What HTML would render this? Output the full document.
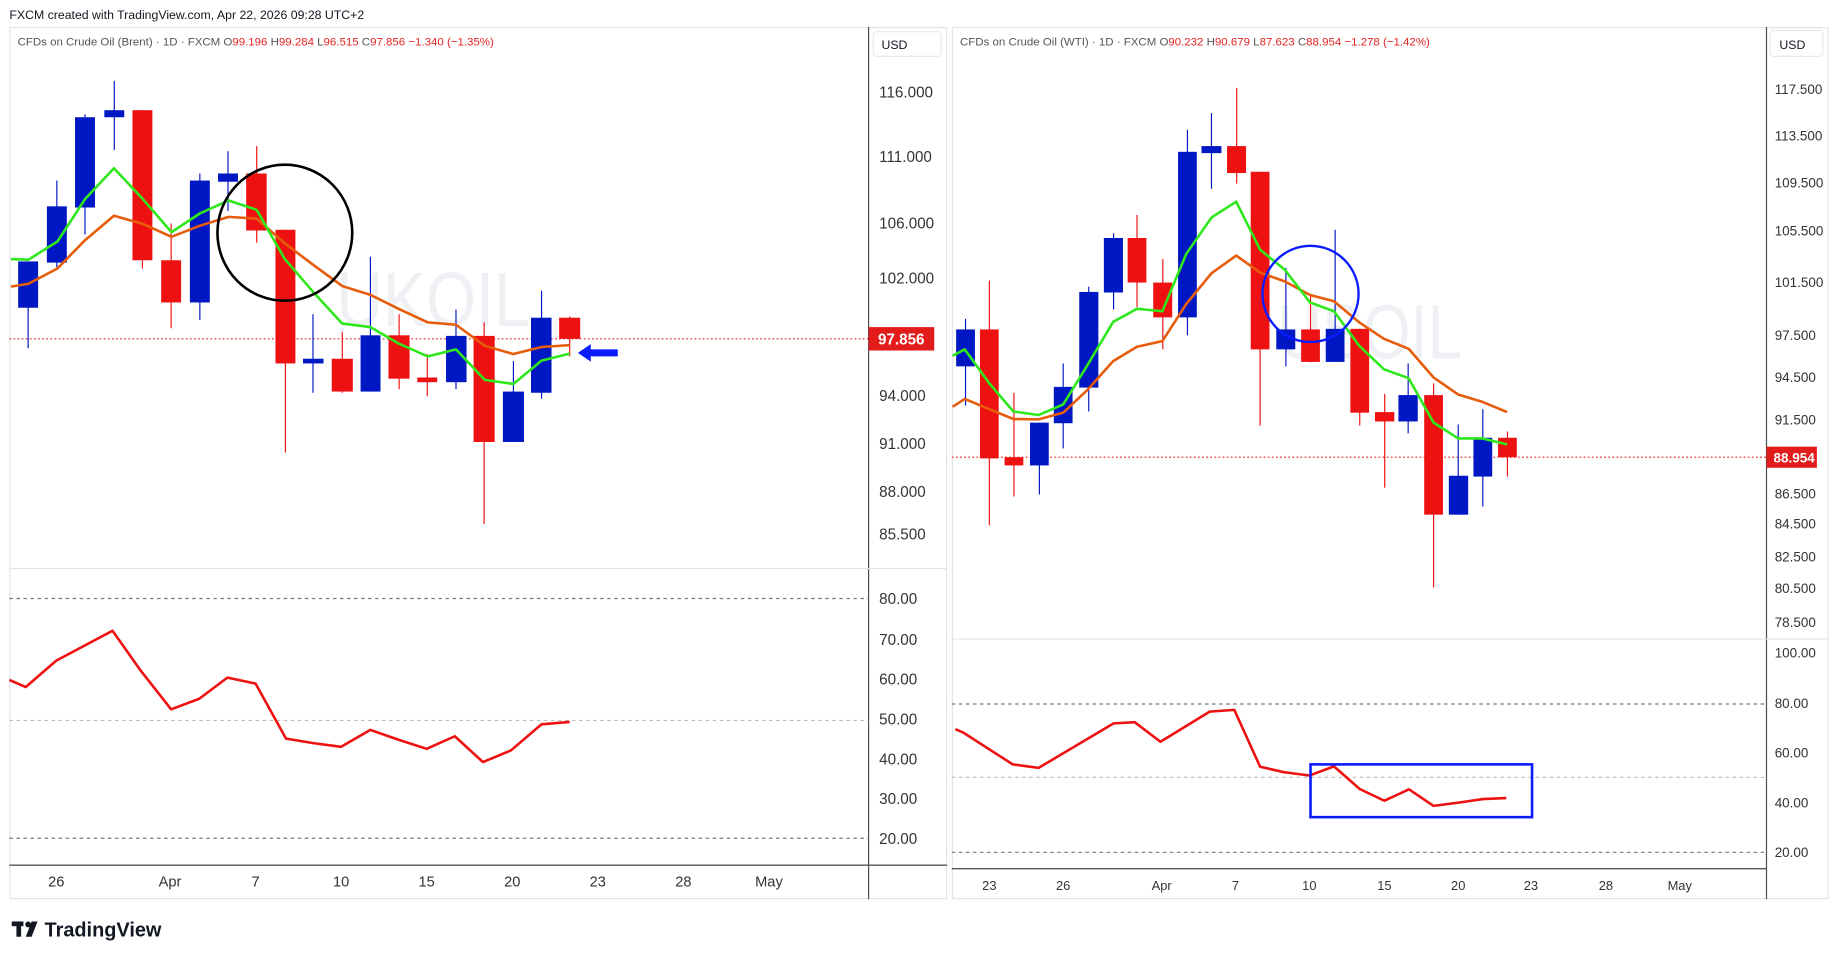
<!DOCTYPE html>
<html><head><meta charset="utf-8"><style>
html,body{margin:0;padding:0;background:#fff;}
svg{display:block;}
text{font-family:"Liberation Sans",sans-serif;}
</style></head><body>
<svg width="1838" height="959" viewBox="0 0 1568 818" preserveAspectRatio="none" xmlns="http://www.w3.org/2000/svg">
<rect x="0" y="0" width="1568" height="818" fill="#fff"/>
<text x="8" y="16" font-size="10.5" fill="#131722">FXCM created with TradingView.com, Apr 22, 2026 09:28 UTC+2</text>

<!-- LEFT PANEL -->
<rect x="8.5" y="23.5" width="799" height="743" fill="none" stroke="#e0e3eb"/>
<line x1="741" y1="23" x2="741" y2="767" stroke="#4a4a4a" stroke-width="1"/>
<line x1="8" y1="485" x2="808" y2="485" stroke="#e0e3eb" stroke-width="1"/>
<line x1="8" y1="738" x2="808" y2="738" stroke="#555" stroke-width="1.2"/>
<rect x="745" y="27" width="58" height="21" rx="3" fill="#fff" stroke="#e6e8ee"/>
<text x="752" y="42" font-size="10.5" fill="#131722">USD</text>
<text x="15" y="39" font-size="9.8" fill="#555"><tspan>CFDs on Crude Oil (Brent) · 1D · FXCM  O</tspan><tspan fill="#e52222">99.196 </tspan><tspan>H</tspan><tspan fill="#e52222">99.284 </tspan><tspan>L</tspan><tspan fill="#e52222">96.515 </tspan><tspan>C</tspan><tspan fill="#e52222">97.856  −1.340 (−1.35%)</tspan></text>
<text x="287" y="278" font-size="66" fill="#eff0f3" textLength="165" lengthAdjust="spacingAndGlyphs">UKOIL</text>

<g font-size="13" fill="#333">
<text x="750" y="83">116.000</text>
<text x="750" y="138">111.000</text>
<text x="750" y="195">106.000</text>
<text x="750" y="242">102.000</text>
<text x="750" y="342">94.000</text>
<text x="750" y="383">91.000</text>
<text x="750" y="424">88.000</text>
<text x="750" y="460">85.500</text>
</g>
<line x1="8" y1="289" x2="741" y2="289" stroke="#e52222" stroke-width="1" stroke-dasharray="1.5,2"/>
<rect x="741" y="279" width="56" height="20" fill="#e21b1b"/>
<text x="749" y="294" font-size="13" font-weight="bold" fill="#fff">97.856</text>

<g stroke-width="1">
<line x1="24" y1="223" x2="24" y2="297" stroke="#0017c4"/><rect x="15.5" y="223" width="17" height="39.5" fill="#0017c4"/>
<line x1="48.5" y1="154" x2="48.5" y2="228" stroke="#0017c4"/><rect x="40" y="176" width="17" height="48" fill="#0017c4"/>
<line x1="72.5" y1="97.5" x2="72.5" y2="200" stroke="#0017c4"/><rect x="64" y="100" width="17" height="77" fill="#0017c4"/>
<line x1="97.5" y1="69" x2="97.5" y2="128" stroke="#0017c4"/><rect x="89" y="94" width="17" height="6" fill="#0017c4"/>
<line x1="121.5" y1="94" x2="121.5" y2="229" stroke="#ee1111"/><rect x="113" y="94" width="17" height="128" fill="#ee1111"/>
<line x1="146" y1="190.6" x2="146" y2="280" stroke="#ee1111"/><rect x="137.5" y="222" width="17" height="36" fill="#ee1111"/>
<line x1="170.5" y1="148" x2="170.5" y2="273" stroke="#0017c4"/><rect x="162" y="154" width="17" height="104" fill="#0017c4"/>
<line x1="194.5" y1="129" x2="194.5" y2="180" stroke="#0017c4"/><rect x="186" y="148" width="17" height="7" fill="#0017c4"/>
<line x1="219" y1="124.6" x2="219" y2="207" stroke="#ee1111"/><rect x="210" y="148" width="17.5" height="48.6" fill="#ee1111"/>
<line x1="243.5" y1="196" x2="243.5" y2="386" stroke="#ee1111"/><rect x="235" y="196" width="17" height="114" fill="#ee1111"/>
<line x1="267" y1="268" x2="267" y2="335" stroke="#0017c4"/><rect x="258.5" y="306" width="17.5" height="4" fill="#0017c4"/>
<line x1="292" y1="283" x2="292" y2="335" stroke="#ee1111"/><rect x="283" y="306" width="18" height="28" fill="#ee1111"/>
<line x1="316" y1="219" x2="316" y2="334" stroke="#0017c4"/><rect x="307.6" y="286" width="17" height="48" fill="#0017c4"/>
<line x1="340.5" y1="268" x2="340.5" y2="332" stroke="#ee1111"/><rect x="331.4" y="286" width="18" height="37" fill="#ee1111"/>
<line x1="364.5" y1="302" x2="364.5" y2="338" stroke="#ee1111"/><rect x="356" y="322" width="17" height="4" fill="#ee1111"/>
<line x1="389" y1="264" x2="389" y2="332" stroke="#0017c4"/><rect x="380.5" y="286.5" width="17.5" height="39.5" fill="#0017c4"/>
<line x1="413" y1="275" x2="413" y2="447" stroke="#ee1111"/><rect x="404" y="286.5" width="18" height="90.5" fill="#ee1111"/>
<line x1="438" y1="308" x2="438" y2="377" stroke="#0017c4"/><rect x="429" y="334" width="18" height="43" fill="#0017c4"/>
<line x1="462" y1="248" x2="462" y2="340" stroke="#0017c4"/><rect x="453" y="271" width="17.5" height="64" fill="#0017c4"/>
<line x1="486" y1="270" x2="486" y2="304" stroke="#ee1111"/><rect x="477" y="271" width="18" height="18" fill="#ee1111"/>
</g>
<polyline fill="none" stroke="#e65c0a" stroke-width="2.2" stroke-linejoin="round" points="9.3,244.5 24.3,242 49,229 72.4,205 97.2,184 122,191 146.3,202 170.6,192.5 195,185 219,186.5 243,207.6 268,226.5 292,244 316,251.5 340,263.4 365,275 389,277 413.6,295 438,302 462,296 486,294.4"/>
<polyline fill="none" stroke="#2ee81c" stroke-width="2.2" stroke-linejoin="round" points="9.3,221 24.3,221.5 49,206 72.4,170 97.2,143.5 122,170 146.3,198 170.6,182 195,171 219,179 243,221 268,250 292,276 316,279 340,293 365,304 389,298 413.6,324 438,327.5 462,307.6 486,301.6"/>
<ellipse cx="243" cy="198.5" rx="57.5" ry="58" fill="none" stroke="#000" stroke-width="2.2"/>
<polygon fill="#0a1cff" points="493,301 504,293.5 504,298 527,298 527,304 504,304 504,308.5"/>

<!-- left RSI -->
<line x1="8" y1="510.5" x2="741" y2="510.5" stroke="#777" stroke-dasharray="3,3"/>
<line x1="8" y1="614.5" x2="741" y2="614.5" stroke="#bbb" stroke-dasharray="3,3"/>
<line x1="8" y1="715" x2="741" y2="715" stroke="#777" stroke-dasharray="3,3"/>
<g font-size="13" fill="#333">
<text x="750" y="515">80.00</text><text x="750" y="550">70.00</text><text x="750" y="584">60.00</text>
<text x="750" y="618">50.00</text><text x="750" y="652">40.00</text><text x="750" y="686">30.00</text><text x="750" y="720">20.00</text>
</g>
<polyline fill="none" stroke="#ee1111" stroke-width="2.2" stroke-linejoin="round" points="8,580 22,586 48,563.5 96,538 120,572 146,605 170,596 194,578 218,583 244,630 268,634 291,637 316,622.6 340,631 364,638.7 388,628 412,650 436,640 462,617.8 486,615.8"/>
<g font-size="12.5" fill="#333" text-anchor="middle">
<text x="48" y="756">26</text><text x="145" y="756">Apr</text><text x="218" y="756">7</text><text x="291" y="756">10</text><text x="364" y="756">15</text><text x="437" y="756">20</text><text x="510" y="756">23</text><text x="583" y="756">28</text><text x="656" y="756">May</text>
</g>

<!-- RIGHT PANEL -->
<rect x="812.5" y="23.5" width="747" height="743" fill="none" stroke="#e0e3eb"/>
<line x1="1507" y1="23" x2="1507" y2="767" stroke="#4a4a4a" stroke-width="1"/>
<line x1="812" y1="545" x2="1560" y2="545" stroke="#e0e3eb" stroke-width="1"/>
<line x1="812" y1="741" x2="1507" y2="741" stroke="#555" stroke-width="1.2"/>
<rect x="1510" y="26" width="45" height="22" rx="3" fill="#fff" stroke="#e6e8ee"/>
<text x="1518" y="42" font-size="10.5" fill="#131722">USD</text>
<text x="819" y="39" font-size="9.8" fill="#555"><tspan>CFDs on Crude Oil (WTI) · 1D · FXCM  O</tspan><tspan fill="#e52222">90.232 </tspan><tspan>H</tspan><tspan fill="#e52222">90.679 </tspan><tspan>L</tspan><tspan fill="#e52222">87.623 </tspan><tspan>C</tspan><tspan fill="#e52222">88.954  −1.278 (−1.42%)</tspan></text>
<text x="1090" y="306" font-size="66" fill="#eff0f3" textLength="157" lengthAdjust="spacingAndGlyphs">USOIL</text>

<g font-size="11.5" fill="#333">
<text x="1514" y="80">117.500</text><text x="1514" y="120">113.500</text><text x="1514" y="160">109.500</text><text x="1514" y="201">105.500</text>
<text x="1514" y="245">101.500</text><text x="1514" y="290">97.500</text><text x="1514" y="326">94.500</text><text x="1514" y="362">91.500</text>
<text x="1514" y="425">86.500</text><text x="1514" y="451">84.500</text><text x="1514" y="479">82.500</text><text x="1514" y="506">80.500</text><text x="1514" y="535">78.500</text>
</g>
<line x1="812" y1="390" x2="1507" y2="390" stroke="#e52222" stroke-width="1" stroke-dasharray="1.5,2"/>
<rect x="1507" y="381" width="43" height="18" fill="#e21b1b"/>
<text x="1513" y="394.5" font-size="11.5" font-weight="bold" fill="#fff">88.954</text>

<g stroke-width="1">
<line x1="823.7" y1="272" x2="823.7" y2="346" stroke="#0017c4"/><rect x="815.7" y="281" width="16" height="31.5" fill="#0017c4"/>
<line x1="844" y1="239.4" x2="844" y2="448" stroke="#ee1111"/><rect x="836" y="281" width="16" height="110" fill="#ee1111"/>
<line x1="865" y1="335" x2="865" y2="423.5" stroke="#ee1111"/><rect x="857" y="390" width="16" height="7" fill="#ee1111"/>
<line x1="886.7" y1="360.5" x2="886.7" y2="421.8" stroke="#0017c4"/><rect x="878.7" y="360.5" width="16" height="36.5" fill="#0017c4"/>
<line x1="907" y1="310" x2="907" y2="382.5" stroke="#0017c4"/><rect x="899" y="330" width="16" height="31" fill="#0017c4"/>
<line x1="928.8" y1="244.6" x2="928.8" y2="351" stroke="#0017c4"/><rect x="920.7" y="249" width="16.3" height="81.6" fill="#0017c4"/>
<line x1="950" y1="199" x2="950" y2="264" stroke="#0017c4"/><rect x="941.7" y="203" width="16.3" height="46.5" fill="#0017c4"/>
<line x1="970" y1="183.4" x2="970" y2="262" stroke="#ee1111"/><rect x="962" y="203" width="16" height="38" fill="#ee1111"/>
<line x1="992" y1="221" x2="992" y2="298" stroke="#ee1111"/><rect x="983.8" y="241" width="16.2" height="29.7" fill="#ee1111"/>
<line x1="1013" y1="110.7" x2="1013" y2="286" stroke="#0017c4"/><rect x="1005" y="129.5" width="16" height="141.2" fill="#0017c4"/>
<line x1="1033.5" y1="96.4" x2="1033.5" y2="161" stroke="#0017c4"/><rect x="1025" y="124.6" width="17" height="6" fill="#0017c4"/>
<line x1="1055" y1="75" x2="1055" y2="156.6" stroke="#ee1111"/><rect x="1046.8" y="124.6" width="16.2" height="23" fill="#ee1111"/>
<line x1="1075" y1="146.5" x2="1075" y2="363" stroke="#ee1111"/><rect x="1067" y="146.5" width="16" height="151.5" fill="#ee1111"/>
<line x1="1097" y1="228.6" x2="1097" y2="312.5" stroke="#0017c4"/><rect x="1088.8" y="281" width="16.2" height="17" fill="#0017c4"/>
<line x1="1118" y1="250.6" x2="1118" y2="309" stroke="#ee1111"/><rect x="1110" y="281" width="16" height="27.7" fill="#ee1111"/>
<line x1="1139" y1="196" x2="1139" y2="308.7" stroke="#0017c4"/><rect x="1131" y="280.5" width="16" height="28.2" fill="#0017c4"/>
<line x1="1160" y1="280.5" x2="1160" y2="363" stroke="#ee1111"/><rect x="1152" y="280.5" width="16" height="71.5" fill="#ee1111"/>
<line x1="1181.3" y1="336" x2="1181.3" y2="416" stroke="#ee1111"/><rect x="1173" y="351.5" width="16.5" height="8" fill="#ee1111"/>
<line x1="1201.3" y1="310" x2="1201.3" y2="369.6" stroke="#0017c4"/><rect x="1193" y="337" width="16.5" height="22.5" fill="#0017c4"/>
<line x1="1223" y1="327" x2="1223" y2="501" stroke="#ee1111"/><rect x="1215" y="337" width="16" height="102" fill="#ee1111"/>
<line x1="1244" y1="362" x2="1244" y2="439" stroke="#0017c4"/><rect x="1236" y="405.8" width="16.5" height="33.2" fill="#0017c4"/>
<line x1="1265" y1="349" x2="1265" y2="432" stroke="#0017c4"/><rect x="1257" y="373.4" width="16" height="33.1" fill="#0017c4"/>
<line x1="1286" y1="368" x2="1286" y2="406.5" stroke="#ee1111"/><rect x="1278" y="373.4" width="16" height="16.6" fill="#ee1111"/>
</g>
<polyline fill="none" stroke="#e65c0a" stroke-width="2.2" stroke-linejoin="round" points="812.7,347 823,340.3 844,349 864.5,357.4 886,357.7 907,352 928,332.3 949.6,308 970,295.8 991.6,291 1012,259.3 1033.6,233 1054.6,218 1075,232.5 1096,240 1117.6,251.6 1138,257 1159.6,275 1180.7,289 1201.7,297.5 1223,322 1244,336.5 1264.7,342.8 1285.7,351.5"/>
<polyline fill="none" stroke="#2ee81c" stroke-width="2.2" stroke-linejoin="round" points="812.7,303.5 823,298 844,327 864.5,351 886,354 907,345 928,311 949.6,274.6 970,263.4 991.6,265.5 1012,216.5 1033.6,185.5 1054.6,172 1075,213 1096,230 1117.6,258 1138,265.5 1159.6,295 1180.7,315 1201.7,322.6 1223,360.5 1244,374 1264.7,374 1285.7,379"/>
<ellipse cx="1118" cy="250.7" rx="41" ry="41" fill="none" stroke="#0a1cff" stroke-width="2"/>

<!-- right RSI -->
<line x1="812" y1="600.5" x2="1507" y2="600.5" stroke="#777" stroke-dasharray="3,3"/>
<line x1="812" y1="663" x2="1507" y2="663" stroke="#bbb" stroke-dasharray="3,3"/>
<line x1="812" y1="727" x2="1507" y2="727" stroke="#777" stroke-dasharray="3,3"/>
<g font-size="11.5" fill="#333">
<text x="1514" y="561">100.00</text><text x="1514" y="604">80.00</text><text x="1514" y="646">60.00</text><text x="1514" y="689">40.00</text><text x="1514" y="731">20.00</text>
</g>
<polyline fill="none" stroke="#ee1111" stroke-width="2.2" stroke-linejoin="round" points="815,622 822,625 864,652 886,655 950,617 968,616 990,632.7 1032,607 1053,605.5 1075,654 1095,658.6 1117,661.5 1138,653.7 1160,673 1181,683 1202,673.3 1223,687.4 1245,684.5 1265,681.6 1285,680.7"/>
<rect x="1118" y="652" width="189" height="45" fill="none" stroke="#0a1cff" stroke-width="2.2"/>
<g font-size="11" fill="#333" text-anchor="middle">
<text x="844" y="759">23</text><text x="907" y="759">26</text><text x="991" y="759">Apr</text><text x="1054" y="759">7</text><text x="1117" y="759">10</text><text x="1181" y="759">15</text><text x="1244" y="759">20</text><text x="1306" y="759">23</text><text x="1370" y="759">28</text><text x="1433" y="759">May</text>
</g>

<!-- logo -->
<g fill="#131722">
<rect x="10" y="786" width="10" height="4"/>
<rect x="14" y="786" width="4" height="13"/>
<circle cx="24" cy="788.5" r="2.5"/>
<polygon points="27,786 32,786 27,799 22,799"/>
</g>
<text x="38" y="799" font-size="17" font-weight="bold" fill="#131722">TradingView</text>
</svg>
</body></html>
